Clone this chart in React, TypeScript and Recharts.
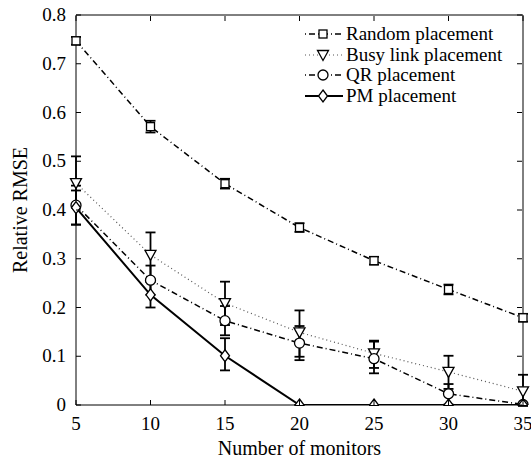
import { LineChart, Line, XAxis, YAxis, ErrorBar, Legend } from 'recharts'

const monitors = [5, 10, 15, 20, 25, 30, 35]
const xTicks = [5, 10, 15, 20, 25, 30, 35]
const yTicks = [0, 0.1, 0.2, 0.3, 0.4, 0.5, 0.6, 0.7, 0.8]

const randomRmse = [0.747, 0.571, 0.454, 0.364, 0.296, 0.237, 0.179]
const randomErr = [[0.008, 0.008], [0.012, 0.012], [0.01, 0.01], [0.009, 0.009], [0.008, 0.008], [0.01, 0.01], [0.008, 0.008]]

const busyRmse = [0.455, 0.308, 0.209, 0.149, 0.106, 0.068, 0.028]
const busyErr = [[0.05, 0.055], [0.05, 0.046], [0.045, 0.044], [0.05, 0.045], [0.03, 0.026], [0.035, 0.033], [0.03, 0.034]]

const qrRmse = [0.41, 0.256, 0.173, 0.127, 0.095, 0.023, 0.001]
const qrErr = [[0.04, 0.04], [0.03, 0.03], [0.03, 0.03], [0.035, 0.035], [0.03, 0.035], [0.022, 0.02], [0, 0]]

const pmRmse = [0.405, 0.226, 0.101, 0, 0, 0, 0]
const pmErr = [[0.035, 0.035], [0.026, 0.026], [0.03, 0.036], [0, 0], [0, 0], [0, 0], [0, 0]]

const data = monitors.map((m, i) => ({
  x: m,
  random: randomRmse[i],
  randomErr: randomErr[i],
  busy: busyRmse[i],
  busyErr: busyErr[i],
  qr: qrRmse[i],
  qrErr: qrErr[i],
  pm: pmRmse[i],
  pmErr: pmErr[i],
}))

const FONT = '"Liberation Serif", "Times New Roman", serif'

type Shape = 'square' | 'triangle' | 'circle' | 'diamond'

function marker(shape: Shape, cx: number, cy: number, key?: string) {
  const p = { fill: '#fff', stroke: '#000', strokeWidth: 1.3 }
  if (shape === 'square') return <rect key={key} x={cx - 4} y={cy - 4} width={8} height={8} {...p} />
  if (shape === 'circle') return <circle key={key} cx={cx} cy={cy} r={5} {...p} />
  if (shape === 'triangle')
    return <path key={key} d={`M${cx - 5.5},${cy - 4.5}L${cx + 5.5},${cy - 4.5}L${cx},${cy + 5.5}Z`} {...p} />
  return <path key={key} d={`M${cx},${cy - 6}L${cx + 4.5},${cy}L${cx},${cy + 6}L${cx - 4.5},${cy}Z`} {...p} />
}

const dotFor = (shape: Shape) => (props: any) => marker(shape, props.cx, props.cy, `${shape}-${props.index}`)

const BottomTick = (props: any) => {
  const { x, y, payload } = props
  return (
    <g>
      <line x1={x} x2={x} y1={y} y2={y - 5} stroke='#000' />
      <text x={x} y={y + 25} textAnchor='middle' style={{ fontFamily: FONT, fontSize: 19 }} fill='#000'>
        {payload.value}
      </text>
    </g>
  )
}

const LeftTick = (props: any) => {
  const { x, y, payload } = props
  return (
    <g>
      <line x1={x} x2={x + 5} y1={y} y2={y} stroke='#000' />
      <text x={x - 10} y={y + 6} textAnchor='end' style={{ fontFamily: FONT, fontSize: 19 }} fill='#000'>
        {payload.value}
      </text>
    </g>
  )
}

const TopTick = (props: any) => {
  const { x, y } = props
  return <line x1={x} x2={x} y1={y + 1} y2={y + 6} stroke='#000' />
}

const RightTick = (props: any) => {
  const { x, y } = props
  return <line x1={x - 1} x2={x - 6} y1={y} y2={y} stroke='#000' />
}

const legendItems: { label: string; shape: Shape; dash?: string; width: number; color: string }[] = [
  { label: 'Random placement', shape: 'square', dash: '1 3 6 3', width: 1.5, color: '#000' },
  { label: 'Busy link placement', shape: 'triangle', dash: '1 3', width: 1.2, color: '#555' },
  { label: 'QR placement', shape: 'circle', dash: '1 3 6 3', width: 1.5, color: '#000' },
  { label: 'PM placement', shape: 'diamond', width: 2, color: '#000' },
]

const renderLegend = () => (
  <div style={{ fontFamily: FONT, fontSize: 19, lineHeight: '20.5px', color: '#000' }}>
    {legendItems.map((it) => (
      <div key={it.label} style={{ display: 'flex', alignItems: 'center', whiteSpace: 'nowrap' }}>
        <svg width={40} height={20} style={{ marginRight: 2 }}>
          <line x1={1} x2={39} y1={10} y2={10} stroke={it.color} strokeWidth={it.width} strokeDasharray={it.dash} />
          {marker(it.shape, 19, 10)}
        </svg>
        <span>{it.label}</span>
      </div>
    ))}
  </div>
)

const labelStyle = { fontFamily: FONT, fontSize: 20 }

export default function App() {
  return (
    <div style={{ fontFamily: FONT }}>
      <style>{`body{margin:0;background:#fff}`}</style>
      <LineChart width={531} height={458} data={data} margin={{ top: 14, right: 7, left: 0, bottom: 0 }}>
        <XAxis
          dataKey='x'
          type='number'
          domain={[5, 35]}
          ticks={xTicks}
          height={53}
          axisLine={{ stroke: '#000' }}
          tickLine={false}
          tickSize={0}
          tickMargin={0}
          tick={<BottomTick />}
          label={{ value: 'Number of monitors', position: 'insideBottom', offset: 3, fill: '#000', style: labelStyle }}
        />
        <XAxis
          xAxisId='top'
          orientation='top'
          dataKey='x'
          type='number'
          domain={[5, 35]}
          ticks={xTicks}
          height={1}
          axisLine={{ stroke: '#000' }}
          tickLine={false}
          tickSize={0}
          tickMargin={0}
          tick={<TopTick />}
        />
        <YAxis
          type='number'
          domain={[0, 0.8]}
          ticks={yTicks}
          width={76}
          axisLine={{ stroke: '#000' }}
          tickLine={false}
          tickSize={0}
          tickMargin={0}
          tick={<LeftTick />}
          allowDataOverflow
          label={{ value: 'Relative RMSE', angle: -90, position: 'insideLeft', offset: 20, fill: '#000', style: { ...labelStyle, textAnchor: 'middle' } }}
        />
        <YAxis
          yAxisId='right'
          orientation='right'
          type='number'
          domain={[0, 0.8]}
          ticks={yTicks}
          width={1}
          axisLine={{ stroke: '#000' }}
          tickLine={false}
          tickSize={0}
          tickMargin={0}
          tick={<RightTick />}
          allowDataOverflow
        />
        <Legend
          layout='horizontal'
          verticalAlign='middle'
          align='center'
          content={renderLegend}
          wrapperStyle={{ top: 24, left: 304, width: 'auto', height: 'auto' }}
        />
        <Line
          xAxisId='top'
          yAxisId='right'
          dataKey='random'
          stroke='none'
          dot={false}
          activeDot={false}
          legendType='none'
          isAnimationActive={false}
        />
        <Line dataKey='random' stroke='#000' strokeWidth={1.5} strokeDasharray='6 3 1 3' dot={dotFor('square')} isAnimationActive={false}>
          <ErrorBar dataKey='randomErr' direction='y' width={5} stroke='#000' strokeWidth={1.8} />
        </Line>
        <Line dataKey='busy' stroke='#555' strokeWidth={1.2} strokeDasharray='1 3' dot={dotFor('triangle')} isAnimationActive={false}>
          <ErrorBar dataKey='busyErr' direction='y' width={5} stroke='#000' strokeWidth={1.8} />
        </Line>
        <Line dataKey='qr' stroke='#000' strokeWidth={1.5} strokeDasharray='6 3 1 3' dot={dotFor('circle')} isAnimationActive={false}>
          <ErrorBar dataKey='qrErr' direction='y' width={5} stroke='#000' strokeWidth={1.8} />
        </Line>
        <Line dataKey='pm' stroke='#000' strokeWidth={2} dot={dotFor('diamond')} isAnimationActive={false}>
          <ErrorBar dataKey='pmErr' direction='y' width={5} stroke='#000' strokeWidth={1.8} />
        </Line>
      </LineChart>
    </div>
  )
}
